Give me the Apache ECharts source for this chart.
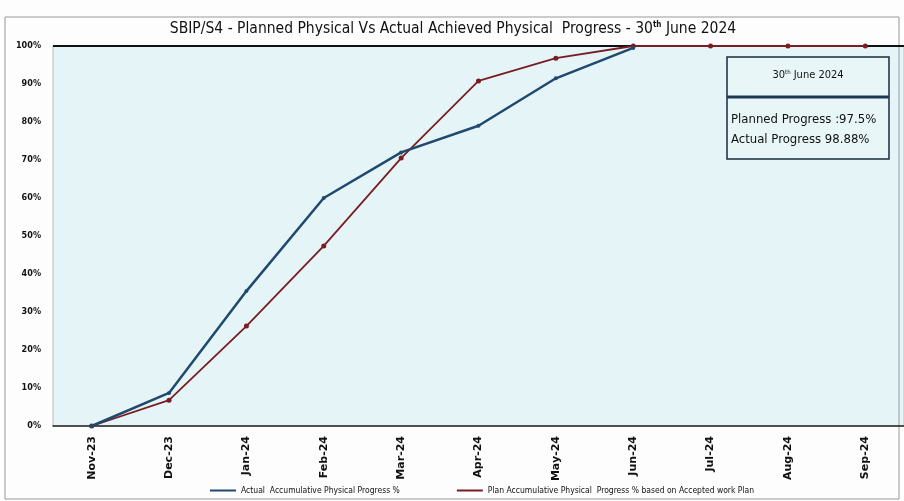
<!DOCTYPE html>
<html><head><meta charset="utf-8">
<script src="https://cdn.jsdelivr.net/npm/echarts@6/dist/echarts.min.js"></script>
<style>html,body{margin:0;padding:0;background:#fff}#c{width:904px;height:501px}</style>
</head><body><div id="c"></div>
<script>
const categories = ['Nov-23','Dec-23','Jan-24','Feb-24','Mar-24','Apr-24','May-24','Jun-24','Jul-24','Aug-24','Sep-24'];
const actualValues = [0, 8.7, 35.5, 60, 72, 79, 91.5, 99.5, null, null, null];
const planValues = [0, 6.8, 26.3, 47.4, 70.5, 90.8, 96.8, 100, 100, 100, 100];
const yTicks = ['0%','10%','20%','30%','40%','50%','60%','70%','80%','90%','100%'];
const seriesNames = ['Actual  Accumulative Physical Progress %', 'Plan Accumulative Physical  Progress % based on Accepted work Plan'];
const boxTitle = '30th June 2024';
const boxLines = ['Planned Progress :97.5%', 'Actual Progress 98.88%'];

const FONT = '"DejaVu Sans Condensed", "Liberation Sans Narrow", "Liberation Sans", Arial, sans-serif';
const chart = echarts.init(document.getElementById('c'));
chart.setOption({
  backgroundColor: '#fdfdfd',
  animation: false,
  title: {
    text: '{a|SBIP/S4 - Planned Physical Vs Actual Achieved Physical  Progress - 30}{s|th}{a| June 2024}',
    left: 448, top: 16, textAlign: 'center',
    textStyle: { rich: {
      a: { fontFamily: FONT, fontSize: 15.5, color: '#111', fontWeight: 'normal' },
      s: { fontFamily: FONT, fontSize: 8, color: '#111', verticalAlign: 'top', padding: [0,0,7,0] }
    } }
  },
  legend: {
    bottom: 1, left: 205, itemGap: 57, itemWidth: 26, itemHeight: 2,
    icon: 'rect',
    textStyle: { fontFamily: FONT, fontSize: 8.5, color: '#111' },
    data: seriesNames
  },
  grid: { left: 53, right: -5, top: 46, bottom: 75, show: true, backgroundColor: '#e4f4f7', borderColor: '#bbb', borderWidth: 1 },
  xAxis: {
    type: 'category', data: categories, boundaryGap: true,
    axisLine: { lineStyle: { color: '#222', width: 1.5 } },
    axisTick: { show: false },
    axisLabel: { rotate: 90, fontFamily: '"DejaVu Sans", sans-serif', fontSize: 11, fontWeight: 'bold', color: '#111', margin: 10 }
  },
  yAxis: {
    type: 'value', min: 0, max: 100, interval: 10,
    axisLine: { show: false }, axisTick: { show: false },
    splitLine: { show: false },
    axisLabel: { fontFamily: FONT, fontSize: 9, fontWeight: 'bold', color: '#111', margin: 12,
      formatter: (v) => yTicks[Math.round(v / 10)] }
  },
  graphic: [
    { type: 'line', shape: { x1: 53, y1: 46, x2: 904, y2: 46 }, style: { stroke: '#111', lineWidth: 2 }, z: 1 },
    { type: 'rect', shape: { x: 5, y: 17, width: 894, height: 482 }, style: { fill: 'none', stroke: '#999', lineWidth: 1 } },
    { type: 'rect', shape: { x: 727, y: 57, width: 162, height: 102 }, style: { fill: '#e8f6f8', stroke: '#1a2a3a', lineWidth: 1.5 }, z: 10 },
    { type: 'line', shape: { x1: 727, y1: 97, x2: 889, y2: 97 }, style: { stroke: '#1c3550', lineWidth: 3 }, z: 11 },
    { type: 'text', x: 808, y: 75, z: 12, style: { text: '{a|30}{s|th}{a| June 2024}', align: 'center', verticalAlign: 'middle',
      rich: { a: { fontFamily: FONT, fontSize: 11, fill: '#111' }, s: { fontFamily: FONT, fontSize: 6, fill: '#111', verticalAlign: 'top' } } } },
    { type: 'text', x: 731, y: 113, z: 12, style: { text: boxLines[0], fontFamily: FONT, fontSize: 13, fill: '#111' } },
    { type: 'text', x: 731, y: 133, z: 12, style: { text: boxLines[1], fontFamily: FONT, fontSize: 13, fill: '#111' } }
  ],
  series: [
    { name: seriesNames[0], type: 'line', data: actualValues, symbol: 'circle', symbolSize: 4,
      itemStyle: { color: '#1f4a6e' }, lineStyle: { color: '#1f4a6e', width: 2.5 }, z: 4 },
    { name: seriesNames[1], type: 'line', data: planValues, symbol: 'circle', symbolSize: 5,
      itemStyle: { color: '#7a1d22' }, lineStyle: { color: '#7a1d22', width: 1.8 }, z: 3 }
  ]
});
</script></body></html>
